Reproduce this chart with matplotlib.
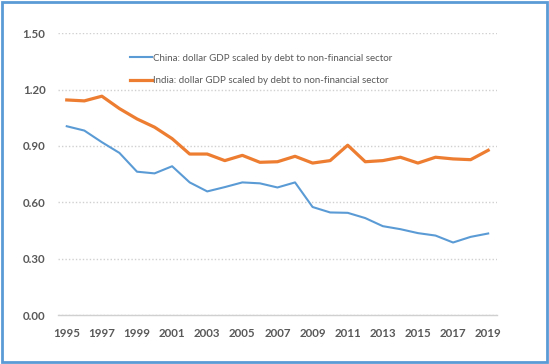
import matplotlib
matplotlib.use("Agg")
import matplotlib.pyplot as plt
from matplotlib.patches import Rectangle

# data
years = list(range(1995, 2020))
china = [1.005, 0.982, 0.920, 0.863, 0.763, 0.754, 0.792, 0.706, 0.658, 0.681,
         0.706, 0.701, 0.679, 0.706, 0.575, 0.546, 0.544, 0.516, 0.473, 0.457,
         0.436, 0.423, 0.386, 0.416, 0.434]
india = [1.145, 1.140, 1.165, 1.099, 1.044, 1.000, 0.939, 0.857, 0.857, 0.822,
         0.850, 0.813, 0.816, 0.845, 0.809, 0.822, 0.904, 0.816, 0.822, 0.840,
         0.809, 0.840, 0.831, 0.827, 0.877]
china_label = "China: dollar GDP scaled by debt to non-financial sector"
india_label = "India: dollar GDP scaled by debt to non-financial sector"
y_ticks = [0.0, 0.3, 0.6, 0.9, 1.2, 1.5]
x_ticks = list(range(1995, 2020, 2))

text_color = "#595959"
grid_color = "#d0d0d0"

plt.rcParams['font.family'] = ['Lato', 'DejaVu Sans']

fig = plt.figure(figsize=(5.49, 3.64), dpi=100)
ax = fig.add_axes([0.1056, 0.1346, 0.7996, 0.774])

ax.plot(years, china, color="#5b9bd5", lw=1.5, label=china_label)
ax.plot(years, india, color="#ed7d31", lw=2.3, label=india_label)

ax.set_xlim(1994.5, 2019.5)
ax.set_ylim(0, 1.5)
ax.set_yticks(y_ticks)
ax.set_yticklabels([f"{v:.2f}" for v in y_ticks])
ax.set_xticks(x_ticks)

for s in ["left", "right", "top"]:
    ax.spines[s].set_visible(False)
ax.spines["bottom"].set_color(grid_color)
ax.spines["bottom"].set_linewidth(1.0)

ax.yaxis.grid(True, linestyle=(0, (1, 1.5)), color=grid_color, lw=1.0)
ax.set_axisbelow(True)
ax.tick_params(length=0, colors=text_color, labelsize=8.3)
ax.tick_params(axis="y", pad=9)
ax.tick_params(axis="x", pad=9)
for lbl in ax.get_xticklabels() + ax.get_yticklabels():
    lbl.set_fontweight("bold")

leg = ax.legend(loc="upper left", bbox_to_anchor=(0.164, 0.927), frameon=False,
                fontsize=7, labelspacing=1.35, handlelength=2.3,
                handletextpad=0.1, borderpad=0, borderaxespad=0)
for t in leg.get_texts():
    t.set_color(text_color)

# outer blue frame
fig.patches.append(Rectangle((0.004, 0.006), 0.992, 0.988, transform=fig.transFigure,
                             fill=False, edgecolor="#5b9bd5", lw=2.0))

fig.savefig("out.png", dpi=100)
